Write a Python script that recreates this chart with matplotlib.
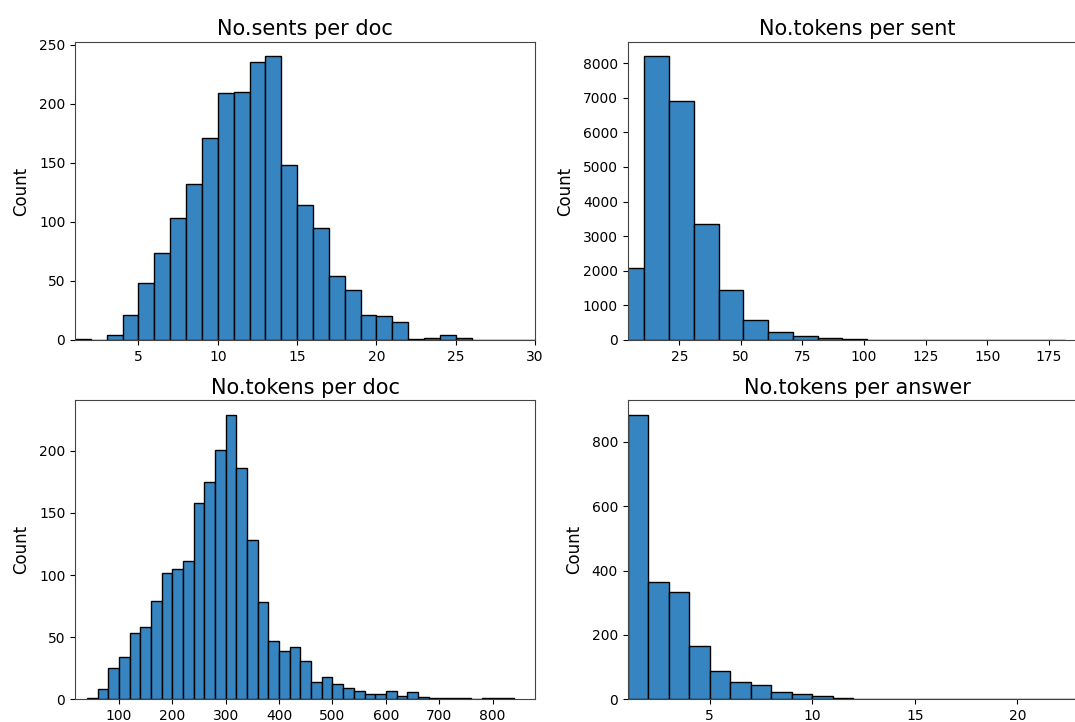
import numpy as np
import matplotlib
matplotlib.use("Agg")
import matplotlib.pyplot as plt
import matplotlib.ticker as tkr

# No.sents per doc: bins of width 1 starting at 1
sents_start, sents_width = 1, 1
sents_counts = [1, 0, 4, 21, 48, 74, 103, 132, 171, 209, 210, 235, 240, 148,
                114, 95, 54, 42, 21, 20, 15, 1, 2, 4, 2, 0, 0, 0, 0]

# No.tokens per sent
sent_tok_start, sent_tok_width = 0.75, 10.05
sent_tok_counts = [2085, 8190, 6915, 3360, 1440, 565, 230, 106, 62, 25,
                   12, 8, 5, 3, 2, 1, 1, 1]

# No.tokens per doc
doc_tok_start, doc_tok_width = 40, 20
doc_tok_counts = [1, 8, 25, 34, 53, 58, 79, 102, 105, 111, 158, 175, 201, 229,
                  186, 128, 78, 47, 39, 42, 31, 14, 18, 12, 9, 7, 4, 4, 7, 3,
                  6, 2, 1, 1, 1, 1, 0, 1, 1, 1]

# No.tokens per answer
ans_start, ans_width = 1, 1
ans_counts = [884, 365, 332, 166, 89, 54, 44, 22, 18, 11, 3,
              1, 1, 0, 1, 0, 1, 0, 0, 1, 0, 1]

panels = [
    ("No.sents per doc", sents_start, sents_width, sents_counts, (1.0, 30.0), 5),
    ("No.tokens per sent", sent_tok_start, sent_tok_width, sent_tok_counts, (4.06, 190.5), 25),
    ("No.tokens per doc", doc_tok_start, doc_tok_width, doc_tok_counts, (17.6, 879.5), 100),
    ("No.tokens per answer", ans_start, ans_width, ans_counts, (1.0, 23.4), 5),
]

# axes boxes in figure fractions (left, bottom, width, height)
boxes = [
    (0.0698, 0.5291, 0.4279, 0.4123),
    (0.5839, 0.5291, 0.4273, 0.4123),
    (0.0698, 0.0314, 0.4279, 0.4139),
    (0.5839, 0.0314, 0.4273, 0.4139),
]

bar_color = "#3685c1"

fig = plt.figure(figsize=(10.75, 7.22), dpi=100)

for (title, start, width, counts, xlim, xstep), box in zip(panels, boxes):
    ax = fig.add_axes(box)
    counts = np.asarray(counts)
    lefts = start + width * np.arange(len(counts))
    ax.bar(lefts, counts, width=width, align="edge",
           facecolor=bar_color, edgecolor="black", linewidth=1.0)
    ax.set_xlim(*xlim)
    ax.xaxis.set_major_locator(tkr.MultipleLocator(xstep))
    ax.set_title(title, fontsize=15, pad=5)
    ax.set_ylabel("Count", fontsize=12, labelpad=6)
    ax.tick_params(labelsize=10)
    for sp in ax.spines.values():
        sp.set_color("#444444")

fig.savefig("out.png", dpi=100)
